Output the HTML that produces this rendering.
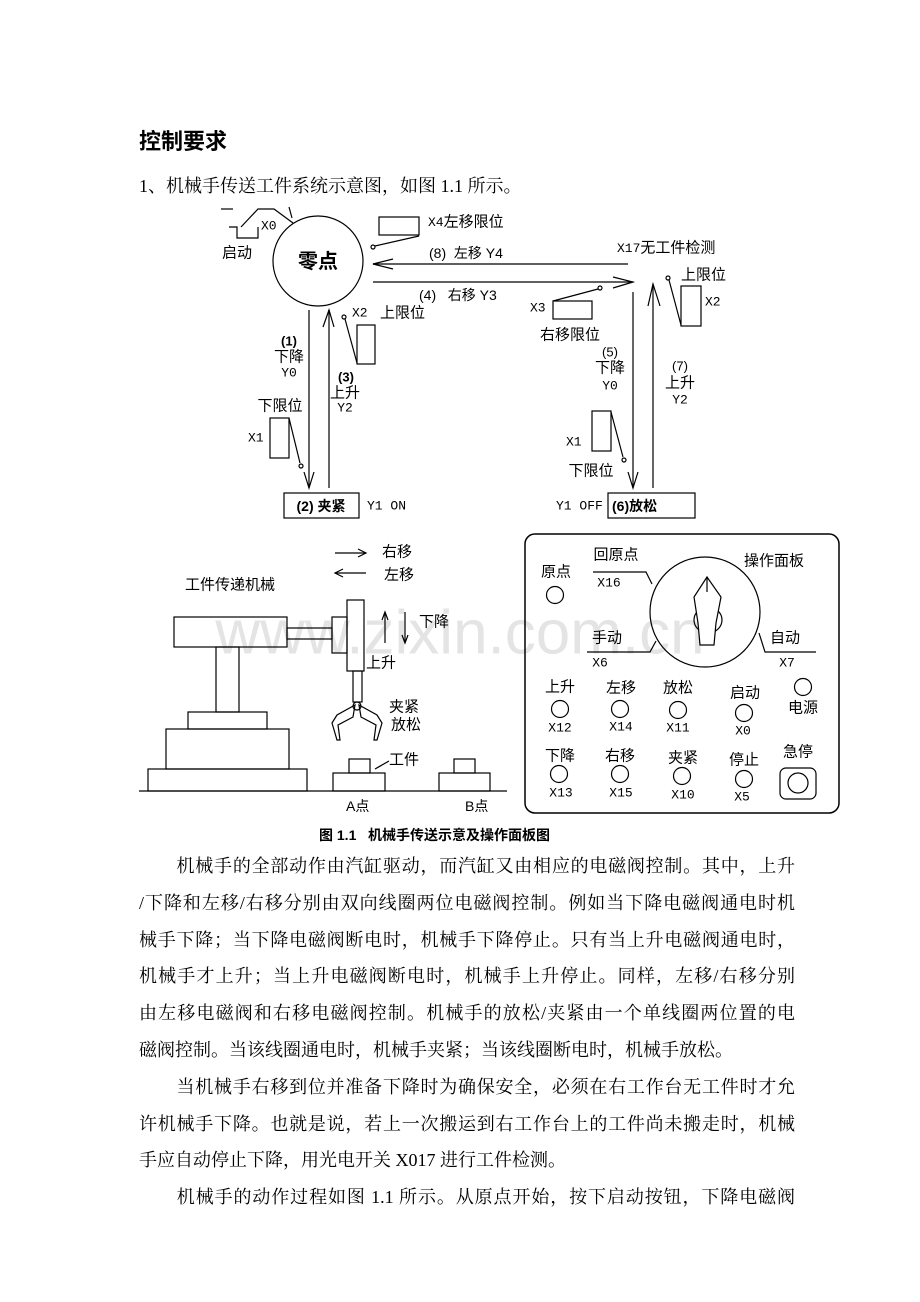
<!DOCTYPE html>
<html><head><meta charset="utf-8">
<style>
html,body{margin:0;padding:0;background:#fff;}
body{width:920px;height:1302px;position:relative;overflow:hidden;font-family:"Liberation Serif","Noto Serif CJK SC",serif;color:#000;}
.t{position:absolute;white-space:nowrap;}
.ln{position:absolute;left:139px;width:656px;font-size:18px;line-height:22px;text-align:justify;text-align-last:justify;white-space:nowrap;font-family:"Liberation Serif","Noto Serif CJK SC",serif;}
.ln.e{text-align-last:left;}
svg{position:absolute;left:0;top:0;}
svg text{font-family:"Liberation Sans","Noto Sans CJK SC",sans-serif;font-size:15px;dominant-baseline:central;}
svg text.m{font-family:"Liberation Mono","Noto Sans CJK SC",monospace;font-size:13px;}
</style></head><body>
<div class="t" style="left:139px;top:129px;font-family:'Liberation Sans','Noto Sans CJK SC',sans-serif;font-weight:bold;font-size:22px;line-height:26px;">控制要求</div>
<div class="t" style="left:139px;top:175px;font-size:18px;line-height:22px;">1、机械手传送工件系统示意图，如图 1.1 所示。</div>

<svg width="920" height="1302" viewBox="0 0 920 1302" fill="none" stroke="#000" stroke-width="1.2">
<text x="460" y="633" text-anchor="middle" stroke="none" fill="#e4e4e4" style="font-size:62px;">www.zixin.com.cn</text>
<!-- start button -->
<line x1="221" y1="209" x2="233" y2="209"/>
<polyline points="229,227 237,227 237,238 258,238 258,227"/>
<polyline points="241,227 258,209 274,209 293,223"/>
<line x1="289" y1="207" x2="292" y2="218"/>
<text class="m" x="261" y="226" stroke="none" fill="#000">X0</text>
<text x="222" y="253" stroke="none" fill="#000">启动</text>
<circle cx="318" cy="261" r="45"/>
<text x="318" y="262" text-anchor="middle" stroke="none" fill="#000" style="font-size:20px;font-weight:bold;">零点</text>
<!-- X4 -->
<rect x="379" y="217" width="40" height="18"/>
<line x1="375" y1="246" x2="419" y2="236"/>
<circle cx="373" cy="247" r="2"/>
<text x="428" y="222" stroke="none" fill="#000"><tspan style="font-family:'Liberation Mono',monospace;font-size:13px">X4</tspan>左移限位</text>
<!-- horizontal arrows -->
<line x1="373" y1="264" x2="628" y2="264"/>
<polyline points="393,259 373,264 393,269"/>
<text x="429" y="253" stroke="none" fill="#000" style="font-size:14px">(8)&#160;&#160;左移 Y4</text>
<text x="617" y="248" stroke="none" fill="#000"><tspan style="font-family:'Liberation Mono',monospace;font-size:13px">X17</tspan>无工件检测</text>
<line x1="373" y1="282" x2="633" y2="282"/>
<polyline points="613,277 633,282 613,288"/>
<text x="419" y="295" stroke="none" fill="#000" style="font-size:14px">(4)&#160;&#160;&#160;右移 Y3</text>
<!-- X3 -->
<rect x="553" y="301" width="39" height="18"/>
<line x1="553" y1="301" x2="598" y2="289"/>
<circle cx="600" cy="288" r="2"/>
<text class="m" x="530" y="308" stroke="none" fill="#000">X3</text>
<text x="540" y="335" stroke="none" fill="#000">右移限位</text>
<!-- left verticals -->
<line x1="309" y1="310" x2="309" y2="488"/>
<polyline points="304,472 309,488 314,472"/>
<line x1="329" y1="488" x2="329" y2="310"/>
<polyline points="323,327 329,310 334,327"/>
<rect x="357" y="325" width="18" height="39"/>
<line x1="345" y1="319" x2="357" y2="363"/>
<circle cx="344" cy="317" r="2"/>
<text class="m" x="352" y="313" stroke="none" fill="#000">X2</text>
<text x="380" y="313" stroke="none" fill="#000">上限位</text>
<text x="289" y="341" text-anchor="middle" stroke="none" fill="#000" style="font-size:13px;font-weight:bold">(1)</text>
<text x="289" y="357" text-anchor="middle" stroke="none" fill="#000">下降</text>
<text class="m" x="289" y="373" text-anchor="middle" stroke="none" fill="#000">Y0</text>
<text x="346" y="377" text-anchor="middle" stroke="none" fill="#000" style="font-size:13px;font-weight:bold">(3)</text>
<text x="345" y="393" text-anchor="middle" stroke="none" fill="#000">上升</text>
<text class="m" x="345" y="408" text-anchor="middle" stroke="none" fill="#000">Y2</text>
<text x="280" y="406" text-anchor="middle" stroke="none" fill="#000">下限位</text>
<rect x="270" y="418" width="19" height="40"/>
<line x1="289" y1="418" x2="300" y2="463"/>
<circle cx="301" cy="466" r="2"/>
<text class="m" x="248" y="438" stroke="none" fill="#000">X1</text>
<rect x="284" y="493" width="75" height="25"/>
<text x="321" y="506" text-anchor="middle" stroke="none" fill="#000" style="font-size:14px;font-weight:bold">(2) 夹紧</text>
<text class="m" x="367" y="506" stroke="none" fill="#000">Y1 ON</text>
<!-- right verticals -->
<line x1="633" y1="292" x2="633" y2="488"/>
<polyline points="628,472 633,488 638,472"/>
<line x1="653" y1="488" x2="653" y2="284"/>
<polyline points="648,306 653,284 660,306"/>
<rect x="681" y="286" width="20" height="40"/>
<line x1="669" y1="280" x2="681" y2="325"/>
<circle cx="668" cy="278" r="2"/>
<text x="681" y="275" stroke="none" fill="#000">上限位</text>
<text class="m" x="705" y="302" stroke="none" fill="#000">X2</text>
<text x="610" y="352" text-anchor="middle" stroke="none" fill="#000" style="font-size:13px">(5)</text>
<text x="610" y="368" text-anchor="middle" stroke="none" fill="#000">下降</text>
<text class="m" x="610" y="386" text-anchor="middle" stroke="none" fill="#000">Y0</text>
<text x="680" y="366" text-anchor="middle" stroke="none" fill="#000" style="font-size:13px">(7)</text>
<text x="680" y="383" text-anchor="middle" stroke="none" fill="#000">上升</text>
<text class="m" x="680" y="400" text-anchor="middle" stroke="none" fill="#000">Y2</text>
<rect x="592" y="411" width="19" height="40"/>
<line x1="611" y1="412" x2="623" y2="457"/>
<circle cx="624" cy="460" r="2"/>
<text class="m" x="566" y="442" stroke="none" fill="#000">X1</text>
<text x="591" y="471" text-anchor="middle" stroke="none" fill="#000">下限位</text>
<rect x="608" y="493" width="87" height="25"/>
<text x="612" y="506" stroke="none" fill="#000" style="font-size:14px;font-weight:bold">(6)放松</text>
<text class="m" x="556" y="506" stroke="none" fill="#000">Y1 OFF</text>

<!-- machine -->
<line x1="139" y1="791" x2="507" y2="791"/>
<rect x="148" y="769" width="159" height="22"/>
<rect x="166" y="729" width="123" height="40"/>
<rect x="188" y="712" width="79" height="17"/>
<rect x="216" y="647" width="23" height="65"/>
<rect x="174" y="617" width="113" height="30"/>
<rect x="287" y="628" width="45" height="11"/>
<rect x="332" y="617" width="15" height="36"/>
<rect x="347" y="600" width="17" height="71"/>
<rect x="353" y="671" width="9" height="31"/>
<polygon points="355,705 337,715 332,723 337,740 340,740 338,725 353,717"/>
<polygon points="359,705 377,715 382,723 377,740 374,740 376,725 361,717"/>
<circle cx="357" cy="706" r="4"/>
<text x="185" y="585" stroke="none" fill="#000">工件传递机械</text>
<line x1="335" y1="553" x2="366" y2="553"/><polyline points="358,549 366,553 358,557"/>
<text x="382" y="552" stroke="none" fill="#000">右移</text>
<line x1="335" y1="573" x2="366" y2="573"/><polyline points="343,569 335,573 343,577"/>
<text x="384" y="575" stroke="none" fill="#000">左移</text>
<line x1="385" y1="643" x2="385" y2="612"/><polyline points="382,620 385,612 388,620"/>
<line x1="405" y1="612" x2="405" y2="643"/><polyline points="402,635 405,643 408,635"/>
<text x="419" y="622" stroke="none" fill="#000">下降</text>
<text x="366" y="663" stroke="none" fill="#000">上升</text>
<text x="389" y="707" stroke="none" fill="#000">夹紧</text>
<text x="391" y="725" stroke="none" fill="#000">放松</text>
<rect x="333" y="773" width="52" height="18"/>
<rect x="349" y="759" width="21" height="14"/>
<line x1="375" y1="769" x2="389" y2="761"/>
<text x="389" y="760" stroke="none" fill="#000">工件</text>
<rect x="439" y="773" width="51" height="18"/>
<rect x="454" y="759" width="21" height="14"/>
<text x="346" y="806" stroke="none" fill="#000" style="font-size:14px">A点</text>
<text x="465" y="806" stroke="none" fill="#000" style="font-size:14px">B点</text>

<!-- panel -->
<rect x="525" y="534" width="314" height="279" rx="10" stroke-width="1.5"/>
<text x="556" y="572" text-anchor="middle" stroke="none" fill="#000">原点</text>
<circle cx="555" cy="595" r="8.5"/>
<text x="616" y="555" text-anchor="middle" stroke="none" fill="#000">回原点</text>
<polyline points="593,572 646,572 652,584"/>
<text class="m" x="609" y="583" text-anchor="middle" stroke="none" fill="#000">X16</text>
<circle cx="705" cy="612" r="55"/>
<text x="774" y="561" text-anchor="middle" stroke="none" fill="#000">操作面板</text>
<ellipse cx="708" cy="620" rx="14" ry="13"/>
<polygon points="707,577 721,597 716,623 714,645 700,645 698,623 694,597" fill="#fff"/>
<line x1="707" y1="577" x2="707" y2="592"/>
<text x="607" y="638" text-anchor="middle" stroke="none" fill="#000">手动</text>
<polyline points="587,652 650,652 656,641"/>
<text class="m" x="600" y="663" text-anchor="middle" stroke="none" fill="#000">X6</text>
<text x="785" y="638" text-anchor="middle" stroke="none" fill="#000">自动</text>
<polyline points="759,633 765,652 816,652"/>
<text class="m" x="787" y="663" text-anchor="middle" stroke="none" fill="#000">X7</text>

<text x="560" y="687" text-anchor="middle" stroke="none" fill="#000">上升</text>
<circle cx="560" cy="709" r="8.5"/>
<text class="m" x="560" y="728" text-anchor="middle" stroke="none" fill="#000">X12</text>
<text x="621" y="688" text-anchor="middle" stroke="none" fill="#000">左移</text>
<circle cx="620" cy="709" r="8.5"/>
<text class="m" x="621" y="727" text-anchor="middle" stroke="none" fill="#000">X14</text>
<text x="678" y="688" text-anchor="middle" stroke="none" fill="#000">放松</text>
<circle cx="678" cy="710" r="8.5"/>
<text class="m" x="678" y="728" text-anchor="middle" stroke="none" fill="#000">X11</text>
<text x="745" y="693" text-anchor="middle" stroke="none" fill="#000">启动</text>
<circle cx="744" cy="713" r="8.5"/>
<text class="m" x="743" y="731" text-anchor="middle" stroke="none" fill="#000">X0</text>
<circle cx="803" cy="687" r="8.5"/>
<text x="803" y="708" text-anchor="middle" stroke="none" fill="#000">电源</text>

<text x="560" y="756" text-anchor="middle" stroke="none" fill="#000">下降</text>
<circle cx="559" cy="774" r="8.5"/>
<text class="m" x="561" y="793" text-anchor="middle" stroke="none" fill="#000">X13</text>
<text x="620" y="756" text-anchor="middle" stroke="none" fill="#000">右移</text>
<circle cx="620" cy="774" r="8.5"/>
<text class="m" x="621" y="793" text-anchor="middle" stroke="none" fill="#000">X15</text>
<text x="683" y="758" text-anchor="middle" stroke="none" fill="#000">夹紧</text>
<circle cx="682" cy="776" r="8.5"/>
<text class="m" x="683" y="795" text-anchor="middle" stroke="none" fill="#000">X10</text>
<text x="744" y="760" text-anchor="middle" stroke="none" fill="#000">停止</text>
<circle cx="744" cy="779" r="8.5"/>
<text class="m" x="742" y="797" text-anchor="middle" stroke="none" fill="#000">X5</text>
<text x="798" y="752" text-anchor="middle" stroke="none" fill="#000">急停</text>
<rect x="780" y="768" width="36" height="31" rx="6"/>
<circle cx="798" cy="783" r="10"/>

<text x="319" y="835" stroke="none" fill="#000" style="font-size:14px;font-weight:bold">图 1.1&#160;&#160;&#160;机械手传送示意及操作面板图</text>
</svg>

<div class="ln" style="top:855px;">&#12288;&#12288;机械手的全部动作由汽缸驱动，而汽缸又由相应的电磁阀控制。其中，上升</div>
<div class="ln" style="top:892px;">/下降和左移/右移分别由双向线圈两位电磁阀控制。例如当下降电磁阀通电时机</div>
<div class="ln" style="top:929px;">械手下降；当下降电磁阀断电时，机械手下降停止。只有当上升电磁阀通电时，</div>
<div class="ln" style="top:965px;">机械手才上升；当上升电磁阀断电时，机械手上升停止。同样，左移/右移分别</div>
<div class="ln" style="top:1002px;">由左移电磁阀和右移电磁阀控制。机械手的放松/夹紧由一个单线圈两位置的电</div>
<div class="ln e" style="top:1039px;">磁阀控制。当该线圈通电时，机械手夹紧；当该线圈断电时，机械手放松。</div>
<div class="ln" style="top:1076px;">&#12288;&#12288;当机械手右移到位并准备下降时为确保安全，必须在右工作台无工件时才允</div>
<div class="ln" style="top:1113px;">许机械手下降。也就是说，若上一次搬运到右工作台上的工件尚未搬走时，机械</div>
<div class="ln e" style="top:1149px;">手应自动停止下降，用光电开关 X017 进行工件检测。</div>
<div class="ln" style="top:1186px;">&#12288;&#12288;机械手的动作过程如图 1.1 所示。从原点开始，按下启动按钮，下降电磁阀</div>
</body></html>
